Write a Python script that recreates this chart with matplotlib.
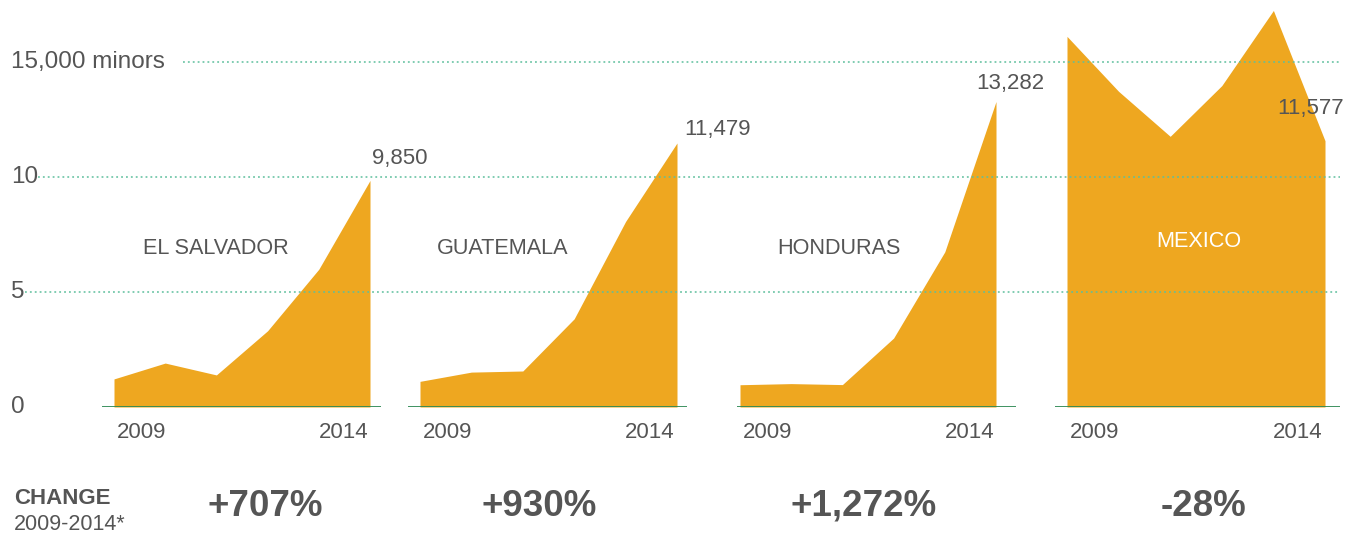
import matplotlib
matplotlib.use("Agg")
import matplotlib.pyplot as plt

plt.rcParams['font.family'] = ['Liberation Sans', 'DejaVu Sans']

years = [2009, 2010, 2011, 2012, 2013, 2014]
countries = ["EL SALVADOR", "GUATEMALA", "HONDURAS", "MEXICO"]
el_salvador = [1221, 1910, 1394, 3314, 5990, 9850]
guatemala = [1115, 1517, 1565, 3835, 8068, 11479]
honduras = [968, 1017, 974, 2997, 6747, 13282]
mexico = [16114, 13724, 11768, 13974, 17240, 11577]
changes = ["+707%", "+930%", "+1,272%", "-28%"]
grid_values = [5000, 10000, 15000]
y_labels = ["0", "5", "10", "15,000 minors"]

series = [el_salvador, guatemala, honduras, mexico]

W, H = 1353, 535
ZERO_PX = 407
PX_PER_UNIT = 345 / 15000
YMAX = 17500

area_color = "#EEA720"
text_color = "#555555"
grid_color = "#5DBF9C"
base_color = "#2F8A55"

# (baseline left, baseline right, area left, area right) in pixels
panels = [(102, 381, 114, 370), (408, 687, 420, 677),
          (737, 1016, 740, 996), (1055, 1340, 1067, 1325)]
# label offsets in pixels (dx, dy) for last value
last_offsets = [(30, 22), (40, 13.5), (14, 18), (-14.5, 32)]
# country label centres in pixels
name_pos = [(215.5, 248.5), (502.5, 248), (839, 249), (1198.5, 241.5)]
change_x = [265.5, 539.5, 864, 1204]

fig = plt.figure(figsize=(W / 100, H / 100), dpi=100)
bottom = (H - ZERO_PX) / H
height = YMAX * PX_PER_UNIT / H

for i, (b0, b1, a0, a1) in enumerate(panels):
    ax = fig.add_axes([b0 / W, bottom, (b1 - b0) / W, height])
    ppy = (a1 - a0) / (years[-1] - years[0])
    ax.set_xlim(years[0] - (a0 - b0) / ppy, years[-1] + (b1 - a1) / ppy)
    ax.set_ylim(0, YMAX)
    ax.fill_between(years, series[i], 0, color=area_color, lw=0, zorder=1)
    ax.axhline(0, color=base_color, lw=1.3, zorder=3)
    ax.axis("off")

    dx, dy = last_offsets[i]
    ax.annotate(f"{series[i][-1]:,}", xy=(years[-1], series[i][-1]),
                xytext=(dx * 0.72, dy * 0.72), textcoords="offset points",
                ha="center", va="center", fontsize=16, color=text_color)

    ax.annotate("2009", xy=(years[0], 0), xytext=(3 * 0.72, -25.5 * 0.72),
                textcoords="offset points", ha="left", va="center",
                fontsize=16, color=text_color)
    ax.annotate("2014", xy=(years[-1], 0), xytext=(-2 * 0.72, -25.5 * 0.72),
                textcoords="offset points", ha="right", va="center",
                fontsize=16, color=text_color)

    nx, ny = name_pos[i]
    fig.text(nx / W, 1 - ny / H, countries[i], ha="center", va="center",
             fontsize=15.6, color="white" if i == 3 else text_color)

    fig.text(change_x[i] / W, 1 - 506 / H, changes[i], ha="center",
             va="center", fontsize=26.5, fontweight="bold", color=text_color)

# overlay for gridlines and y labels
ov = fig.add_axes([0, bottom, 1, height], zorder=10)
ov.set_xlim(0, W)
ov.set_ylim(0, YMAX)
ov.patch.set_alpha(0)
ov.axis("off")
grid_start = [25, 38, 183]
for v, xs in zip(grid_values, grid_start):
    ov.plot([xs, 1340], [v, v], color=grid_color, lw=1.1,
            linestyle=(0, (1.2, 2.0)))

for v, lab in zip([0] + grid_values, y_labels):
    ov.text(11, v, lab, ha="left", va="center", fontsize=17.5,
            color=text_color)

fig.text(14 / W, 1 - 498 / H, "CHANGE", ha="left", va="center",
         fontsize=16, fontweight="bold", color=text_color)
fig.text(14 / W, 1 - 524.5 / H, "2009-2014*", ha="left", va="center",
         fontsize=15.5, color=text_color)

fig.savefig("out.png", dpi=100)
